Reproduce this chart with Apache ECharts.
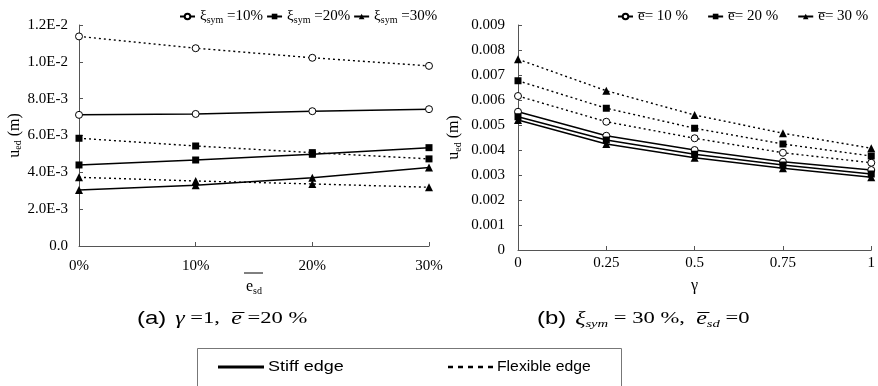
<!DOCTYPE html>
<html><head><meta charset="utf-8">
<script src="https://cdn.jsdelivr.net/npm/echarts@6/dist/echarts.min.js"></script>
<style>html,body{margin:0;padding:0;background:#fff;}#c{width:878px;height:386px;}</style>
</head><body><div id="c"></div>
<script>
// ---- data: chart (a) ----
const catA = ['0%', '10%', '20%', '30%'];
const yTicksA = ['0.0', '2.0E-3', '4.0E-3', '6.0E-3', '8.0E-3', '1.0E-2', '1.2E-2'];
const xi10Stiff = [0.00712, 0.00717, 0.00732, 0.00743];
const xi10Flex  = [0.01138, 0.01074, 0.01022, 0.00978];
const xi20Stiff = [0.00440, 0.00467, 0.00498, 0.00534];
const xi20Flex  = [0.00585, 0.00543, 0.00507, 0.00473];
const xi30Stiff = [0.00304, 0.00330, 0.00370, 0.00426];
const xi30Flex  = [0.00373, 0.00353, 0.00337, 0.00319];
// ---- data: chart (b) ----
const gammaB = [0, 0.25, 0.5, 0.75, 1];
const xTicksB = ['0', '0.25', '0.5', '0.75', '1'];
const yTicksB = ['0', '0.001', '0.002', '0.003', '0.004', '0.005', '0.006', '0.007', '0.008', '0.009'];
const e10Stiff = [0.00553, 0.00457, 0.00400, 0.00353, 0.00320];
const e20Stiff = [0.00533, 0.00440, 0.00383, 0.00340, 0.00304];
const e30Stiff = [0.00520, 0.00424, 0.00369, 0.00327, 0.00291];
const e10Flex  = [0.00616, 0.00513, 0.00447, 0.00389, 0.00349];
const e20Flex  = [0.00677, 0.00567, 0.00487, 0.00424, 0.00376];
const e30Flex  = [0.00763, 0.00637, 0.00540, 0.00467, 0.00407];

const SERIF = 'Liberation Serif';
const SANS = 'Liberation Sans';
const AX = '#555';

const sym = {
  c: { symbol: 'circle', symbolSize: 7, itemStyle: { color: '#fff', borderColor: '#000', borderWidth: 1 } },
  s: { symbol: 'rect', symbolSize: 7, itemStyle: { color: '#000', borderColor: '#000', borderWidth: 0 } },
  t: { symbol: 'triangle', symbolSize: 8, itemStyle: { color: '#000', borderColor: '#000', borderWidth: 0 } }
};
function mk(name, data, m, flex, gi) {
  return Object.assign({
    name: name, type: 'line', data: data,
    xAxisIndex: gi, yAxisIndex: gi,
    showAllSymbol: true, animation: false, z: flex ? 2 : 3,
    lineStyle: { color: '#000', width: flex ? 1.4 : 1.5, type: flex ? [2, 3] : 'solid' }
  }, JSON.parse(JSON.stringify(sym[m])));
}
const pairs = (xs, ys) => xs.map((x, i) => [x, ys[i]]);

const series = [
  mk('xi10', xi10Stiff, 'c', false, 0),
  mk('xi20', xi20Stiff, 's', false, 0),
  mk('xi30', xi30Stiff, 't', false, 0),
  mk('xi10', xi10Flex, 'c', true, 0),
  mk('xi20', xi20Flex, 's', true, 0),
  mk('xi30', xi30Flex, 't', true, 0),
  mk('e10', pairs(gammaB, e10Stiff), 'c', false, 1),
  mk('e20', pairs(gammaB, e20Stiff), 's', false, 1),
  mk('e30', pairs(gammaB, e30Stiff), 't', false, 1),
  mk('e10', pairs(gammaB, e10Flex), 'c', true, 1),
  mk('e20', pairs(gammaB, e20Flex), 's', true, 1),
  mk('e30', pairs(gammaB, e30Flex), 't', true, 1)
];

const legendText = {
  xi10: '{t|ξ}{sub|sym}{t| =10%}', xi20: '{t|ξ}{sub|sym}{t| =20%}', xi30: '{t|ξ}{sub|sym}{t| =30%}',
  e10: '{t|e\u0305= 10 %}', e20: '{t|e\u0305= 20 %}', e30: '{t|e\u0305= 30 %}'
};
const legRich = {
  t: { fontFamily: SERIF, fontSize: 15, color: '#000' },
  sub: { fontFamily: SERIF, fontSize: 10, color: '#000', padding: [8, 0, 0, 0] }
};

function axisCommon() {
  return {
    axisLine: { show: true, lineStyle: { color: AX, width: 1 } },
    axisTick: { show: true, inside: true, length: 4, lineStyle: { color: AX } },
    splitLine: { show: false },
    axisLabel: { fontFamily: SERIF, fontSize: 15, color: '#000' }
  };
}

const capRich = {
  p: { fontFamily: SANS, fontSize: 18, color: '#000' },
  g: { fontFamily: SERIF, fontStyle: 'italic', fontSize: 18, color: '#000' },
  gs: { fontFamily: SERIF, fontStyle: 'italic', fontSize: 11, color: '#000', padding: [10, 0, 0, 0] },
  t: { fontFamily: SERIF, fontSize: 17, color: '#000' }
};

const option = {
  backgroundColor: '#fff',
  animation: false,
  textStyle: { fontFamily: SERIF },
  grid: [
    { left: 79, right: 449, top: 25, bottom: 140 },
    { left: 518, right: 6, top: 25, bottom: 136 }
  ],
  legend: [
    { data: ['xi10', 'xi20', 'xi30'], left: 174, top: 4, itemWidth: 15, itemHeight: 7, itemGap: 3,
      formatter: n => legendText[n], textStyle: { rich: legRich } },
    { data: ['e10', 'e20', 'e30'], left: 612, top: 4, itemWidth: 15, itemHeight: 7, itemGap: 19,
      formatter: n => legendText[n], textStyle: { rich: legRich } }
  ],
  xAxis: [
    Object.assign(axisCommon(), {
      gridIndex: 0, type: 'category', data: catA, boundaryGap: false,
      axisLabel: { fontFamily: SERIF, fontSize: 15, color: '#000', margin: 13 },
      name: '{e|e}{sub|sd}', nameLocation: 'middle', nameGap: 30,
      nameTextStyle: { rich: { e: { fontFamily: SERIF, fontSize: 16, color: '#000' },
        sub: { fontFamily: SERIF, fontSize: 10, color: '#000', padding: [8, 0, 0, 0] } } }
    }),
    Object.assign(axisCommon(), {
      gridIndex: 1, type: 'value', min: 0, max: 1, interval: 0.25,
      axisLabel: { fontFamily: SERIF, fontSize: 15, color: '#000', margin: 6,
        formatter: v => xTicksB[Math.round(v / 0.25)] },
      name: 'γ', nameLocation: 'middle', nameGap: 28,
      nameTextStyle: { fontFamily: SERIF, fontSize: 16, color: '#000' }
    })
  ],
  yAxis: [
    Object.assign(axisCommon(), {
      gridIndex: 0, type: 'value', min: 0, max: 0.012, interval: 0.002,
      axisLabel: { fontFamily: SERIF, fontSize: 15, color: '#000', margin: 11,
        formatter: v => yTicksA[Math.round(v / 0.002)] },
      name: '{u|u}{sub|ed}{u| (m)}', nameLocation: 'middle', nameGap: 54, nameRotate: 90,
      nameTextStyle: { rich: { u: { fontFamily: SERIF, fontSize: 16, color: '#000' },
        sub: { fontFamily: SERIF, fontSize: 10, color: '#000', padding: [8, 0, 0, 0] } } }
    }),
    Object.assign(axisCommon(), {
      gridIndex: 1, type: 'value', min: 0, max: 0.009, interval: 0.001,
      axisLabel: { fontFamily: SERIF, fontSize: 15, color: '#000', margin: 13,
        formatter: v => yTicksB[Math.round(v / 0.001)] },
      name: '{u|u}{sub|ed}{u| (m)}', nameLocation: 'middle', nameGap: 55, nameRotate: 90,
      nameTextStyle: { rich: { u: { fontFamily: SERIF, fontSize: 16, color: '#000' },
        sub: { fontFamily: SERIF, fontSize: 10, color: '#000', padding: [8, 0, 0, 0] } } }
    })
  ],
  graphic: [
    { type: 'line', silent: true, shape: { x1: 244, y1: 273, x2: 263, y2: 273 }, style: { stroke: '#000', lineWidth: 1 } },
    { type: 'text', x: 137, y: 319, scaleX: 1.33, silent: true, style: {
        text: '{p|(a)}  {g|γ}{t| =1,  }{g|e\u0305}{t| =20 %}',
        verticalAlign: 'middle', align: 'left', rich: capRich } },
    { type: 'text', x: 537, y: 319, scaleX: 1.33, silent: true, style: {
        text: '{p|(b)}  {g|ξ}{gs|sym}{t| = 30 %,  }{g|e\u0305}{gs|sd}{t| =0}',
        verticalAlign: 'middle', align: 'left', rich: capRich } },
    { type: 'rect', silent: true, shape: { x: 197.5, y: 348.5, width: 424, height: 60 },
      style: { fill: 'none', stroke: '#777', lineWidth: 1 } },
    { type: 'line', silent: true, shape: { x1: 218, y1: 367, x2: 264, y2: 367 }, style: { stroke: '#000', lineWidth: 3 } },
    { type: 'text', x: 268, y: 367, scaleX: 1.2, silent: true, style: { text: 'Stiff edge', fontFamily: SANS, fontSize: 15, fill: '#000', verticalAlign: 'middle' } },
    { type: 'line', silent: true, shape: { x1: 448, y1: 367, x2: 494, y2: 367 }, style: { stroke: '#000', lineWidth: 2.5, lineDash: [5, 5] } },
    { type: 'text', x: 497, y: 367, scaleX: 1.05, silent: true, style: { text: 'Flexible edge', fontFamily: SANS, fontSize: 15, fill: '#000', verticalAlign: 'middle' } }
  ],
  series: series
};
const chart = echarts.init(document.getElementById('c'), null, { renderer: 'canvas' });
chart.setOption(option);
</script></body></html>
